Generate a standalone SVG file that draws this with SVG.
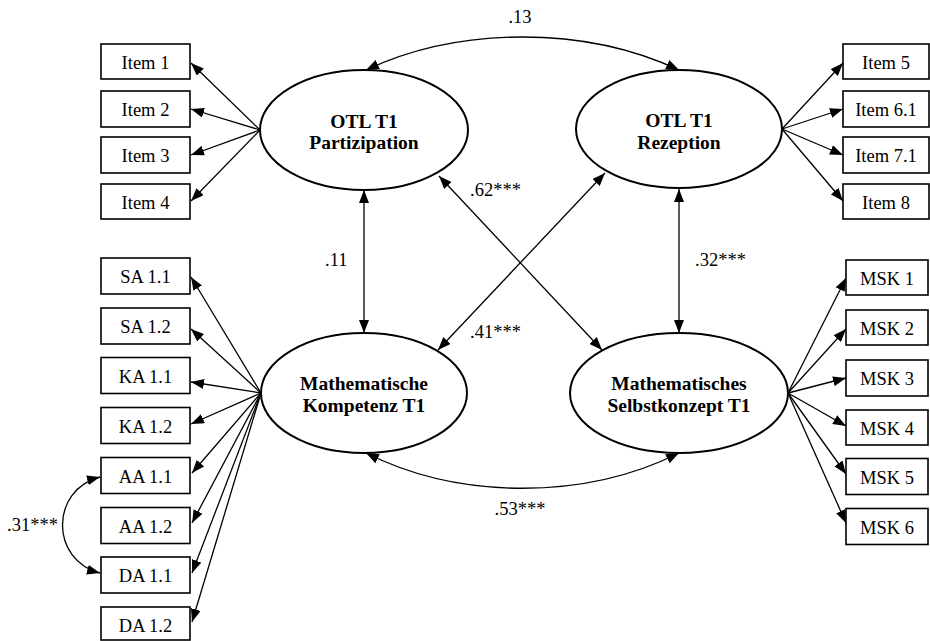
<svg xmlns="http://www.w3.org/2000/svg" width="930" height="641" viewBox="0 0 930 641">
  <style>
    .bg { fill: #ffffff; }
    .box { fill: #ffffff; stroke: #000000; stroke-width: 1.6; }
    .lat { fill: #ffffff; stroke: #000000; stroke-width: 2; }
    .lbl { font-family: "Liberation Serif", "Times New Roman", serif; font-size: 18.5px; fill: #000000; }
    .mid { text-anchor: middle; }
    .latlbl { font-family: "Liberation Serif", "Times New Roman", serif; font-size: 19.5px; font-weight: bold; fill: #000000; text-anchor: middle; }
    .edge { fill: none; stroke: #000000; stroke-width: 1.3; }
    .one { marker-end: url(#ah); }
    .two { marker-start: url(#ah); marker-end: url(#ah); }
  </style>
  <defs>
    <marker id="ah" viewBox="0 0 13 10" refX="13" refY="5" markerWidth="13" markerHeight="10" markerUnits="userSpaceOnUse" orient="auto-start-reverse">
      <path d="M0,0 L13,5 L0,10 Z" fill="#000000"/>
    </marker>
  </defs>

  <rect class="bg" x="0" y="0" width="930" height="641"/>

  <!-- connectors -->
  <g id="connectors">
    <!-- loadings: OTL T1 Partizipation -->
    <line class="edge one" x1="260" y1="130" x2="191" y2="63"/>
    <line class="edge one" x1="260" y1="130" x2="191" y2="109"/>
    <line class="edge one" x1="260" y1="130" x2="191" y2="155"/>
    <line class="edge one" x1="260" y1="130" x2="191" y2="201"/>
    <!-- loadings: OTL T1 Rezeption -->
    <line class="edge one" x1="782" y1="129" x2="843" y2="63"/>
    <line class="edge one" x1="782" y1="129" x2="843" y2="109"/>
    <line class="edge one" x1="782" y1="129" x2="843" y2="155"/>
    <line class="edge one" x1="782" y1="129" x2="843" y2="201"/>
    <!-- loadings: Mathematische Kompetenz T1 -->
    <line class="edge one" x1="261" y1="393" x2="191" y2="277"/>
    <line class="edge one" x1="261" y1="393" x2="191" y2="329"/>
    <line class="edge one" x1="261" y1="393" x2="191" y2="382"/>
    <line class="edge one" x1="261" y1="393" x2="191" y2="424"/>
    <line class="edge one" x1="261" y1="393" x2="192" y2="473"/>
    <line class="edge one" x1="261" y1="393" x2="192" y2="523"/>
    <line class="edge one" x1="261" y1="393" x2="192" y2="573"/>
    <line class="edge one" x1="261" y1="393" x2="192" y2="622"/>
    <!-- loadings: Mathematisches Selbstkonzept T1 -->
    <line class="edge one" x1="788" y1="393" x2="846" y2="278"/>
    <line class="edge one" x1="788" y1="393" x2="846" y2="329"/>
    <line class="edge one" x1="788" y1="393" x2="846" y2="378"/>
    <line class="edge one" x1="788" y1="393" x2="846" y2="426"/>
    <line class="edge one" x1="788" y1="393" x2="846" y2="474"/>
    <line class="edge one" x1="788" y1="393" x2="846" y2="523"/>

    <!-- latent correlations -->
    <path class="edge two" d="M366,70 C460,26 585,26 679,70"/>
    <path class="edge two" d="M366,453 C460,500 585,500 679,453"/>
    <line class="edge two" x1="364" y1="190" x2="364" y2="333"/>
    <line class="edge two" x1="679" y1="189" x2="679" y2="333"/>
    <line class="edge two" x1="439" y1="176" x2="602" y2="350"/>
    <line class="edge two" x1="605" y1="173" x2="438" y2="350"/>
    <!-- residual correlation AA 1.1 / DA 1.1 -->
    <path class="edge two" d="M100,477 C50,490 50,560 100,573"/>

    <!-- coefficients -->
    <text class="lbl mid" x="520" y="23">.13</text>
    <text class="lbl" x="325" y="266">.11</text>
    <text class="lbl" x="695" y="266">.32***</text>
    <text class="lbl" x="470" y="196">.62***</text>
    <text class="lbl" x="470" y="338">.41***</text>
    <text class="lbl mid" x="520" y="515">.53***</text>
    <text class="lbl" x="7" y="531">.31***</text>
  </g>

  <!-- latent variables -->
  <g id="otl-partizipation">
    <ellipse class="lat" cx="364" cy="130" rx="104" ry="60"/>
    <text class="latlbl" x="364" y="128">OTL T1</text>
    <text class="latlbl" x="364" y="149">Partizipation</text>
  </g>
  <g id="otl-rezeption">
    <ellipse class="lat" cx="679" cy="129" rx="103" ry="59"/>
    <text class="latlbl" x="679" y="127">OTL T1</text>
    <text class="latlbl" x="679" y="149">Rezeption</text>
  </g>
  <g id="math-kompetenz">
    <ellipse class="lat" cx="364" cy="393" rx="103" ry="60"/>
    <text class="latlbl" x="364" y="390">Mathematische</text>
    <text class="latlbl" x="364" y="412">Kompetenz T1</text>
  </g>
  <g id="math-selbstkonzept">
    <ellipse class="lat" cx="679" cy="393" rx="109" ry="60"/>
    <text class="latlbl" x="679" y="390">Mathematisches</text>
    <text class="latlbl" x="679" y="412">Selbstkonzept T1</text>
  </g>

  <!-- indicators: OTL T1 Partizipation -->
  <g id="item1"><rect class="box" x="101" y="44" width="89" height="35"/><text class="lbl mid" x="145.5" y="69">Item 1</text></g>
  <g id="item2"><rect class="box" x="101" y="91" width="89" height="36"/><text class="lbl mid" x="145.5" y="116">Item 2</text></g>
  <g id="item3"><rect class="box" x="101" y="137" width="89" height="36"/><text class="lbl mid" x="145.5" y="162">Item 3</text></g>
  <g id="item4"><rect class="box" x="101" y="184" width="89" height="35"/><text class="lbl mid" x="145.5" y="209">Item 4</text></g>

  <!-- indicators: OTL T1 Rezeption -->
  <g id="item5"><rect class="box" x="843" y="44" width="86" height="35"/><text class="lbl mid" x="886" y="69">Item 5</text></g>
  <g id="item6-1"><rect class="box" x="843" y="91" width="86" height="36"/><text class="lbl mid" x="886" y="116">Item 6.1</text></g>
  <g id="item7-1"><rect class="box" x="843" y="137" width="86" height="36"/><text class="lbl mid" x="886" y="162">Item 7.1</text></g>
  <g id="item8"><rect class="box" x="843" y="184" width="86" height="35"/><text class="lbl mid" x="886" y="209">Item 8</text></g>

  <!-- indicators: Mathematische Kompetenz T1 -->
  <g id="sa1-1"><rect class="box" x="101" y="258" width="89" height="36"/><text class="lbl mid" x="145.5" y="283">SA 1.1</text></g>
  <g id="sa1-2"><rect class="box" x="101" y="308" width="89" height="36"/><text class="lbl mid" x="145.5" y="333">SA 1.2</text></g>
  <g id="ka1-1"><rect class="box" x="101" y="357.5" width="89" height="36"/><text class="lbl mid" x="145.5" y="382.5">KA 1.1</text></g>
  <g id="ka1-2"><rect class="box" x="101" y="407.5" width="89" height="36"/><text class="lbl mid" x="145.5" y="432.5">KA 1.2</text></g>
  <g id="aa1-1"><rect class="box" x="101" y="457.5" width="89" height="36"/><text class="lbl mid" x="145.5" y="482.5">AA 1.1</text></g>
  <g id="aa1-2"><rect class="box" x="101" y="507.5" width="89" height="36"/><text class="lbl mid" x="145.5" y="532.5">AA 1.2</text></g>
  <g id="da1-1"><rect class="box" x="101" y="557" width="89" height="36"/><text class="lbl mid" x="145.5" y="582">DA 1.1</text></g>
  <g id="da1-2"><rect class="box" x="101" y="607" width="89" height="33"/><text class="lbl mid" x="145.5" y="632">DA 1.2</text></g>

  <!-- indicators: Mathematisches Selbstkonzept T1 -->
  <g id="msk1"><rect class="box" x="846" y="260" width="82" height="35"/><text class="lbl mid" x="887" y="285">MSK 1</text></g>
  <g id="msk2"><rect class="box" x="846" y="310" width="82" height="35"/><text class="lbl mid" x="887" y="335">MSK 2</text></g>
  <g id="msk3"><rect class="box" x="846" y="360" width="82" height="36"/><text class="lbl mid" x="887" y="385">MSK 3</text></g>
  <g id="msk4"><rect class="box" x="846" y="410" width="82" height="35"/><text class="lbl mid" x="887" y="435">MSK 4</text></g>
  <g id="msk5"><rect class="box" x="846" y="458.5" width="82" height="36"/><text class="lbl mid" x="887" y="483.5">MSK 5</text></g>
  <g id="msk6"><rect class="box" x="846" y="508.5" width="82" height="36"/><text class="lbl mid" x="887" y="533.5">MSK 6</text></g>
</svg>
